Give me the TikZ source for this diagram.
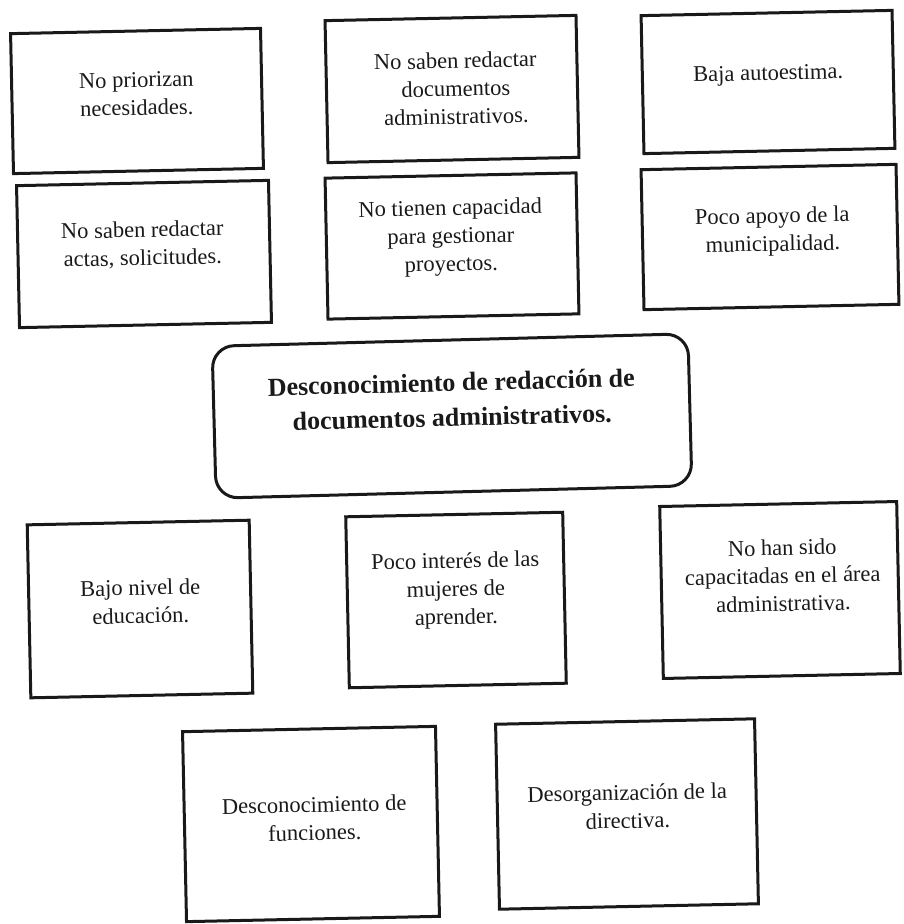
\documentclass[tikz,border=0pt]{standalone}
\usepackage{fontspec}
\setmainfont{Liberation Serif}
\begin{document}
\begin{tikzpicture}[x=1pt,y=-1pt,
  cbox/.style={draw=black!90,line width=3pt,rectangle,inner sep=0pt,rotate=1.2},
  ctext/.style={anchor=north,align=center,inner sep=0pt,rotate=1.2,text=black!90,
    font=\fontsize{22.5pt}{28pt}\selectfont},
  mainbox/.style={draw=black!90,line width=3pt,rectangle,rounded corners=22pt,inner sep=0pt,rotate=1.5},
  maintext/.style={anchor=north,align=center,inner sep=0pt,rotate=1.5,text=black!90,
    font=\fontsize{26pt}{35pt}\selectfont\bfseries}]
\useasboundingbox (0,0) rectangle (904,924);
\def\st{\rule{0pt}{17pt}}
% top rows
\node[cbox,minimum width=250pt,minimum height=140pt] (b1) at (137,101) {};
\node[ctext] (t1) at (136,70) {\st No priorizan\\necesidades.};
\node[cbox,minimum width=251pt,minimum height=142pt] (b2) at (452,89) {};
\node[ctext] (t2) at (455,51) {\st No saben redactar\\documentos\\administrativos.};
\node[cbox,minimum width=251pt,minimum height=138pt] (b3) at (768,82) {};
\node[ctext] (t3) at (768,63) {\st Baja autoestima.};
\node[cbox,minimum width=252pt,minimum height=142pt] (b4) at (144,254) {};
\node[ctext] (t4) at (142,220) {\st No saben redactar\\actas, solicitudes.};
\node[cbox,minimum width=251pt,minimum height=141pt] (b5) at (452,246) {};
\node[ctext] (t5) at (450,198) {\st No tienen capacidad\\para gestionar\\proyectos.};
\node[cbox,minimum width=255pt,minimum height=140pt] (b6) at (770,237) {};
\node[ctext] (t6) at (772,206) {\st Poco apoyo de la\\municipalidad.};
% centre
\node[mainbox,minimum width=476pt,minimum height=152pt] (c) at (452,416) {};
\node[maintext] (tc) at (451,372) {\rule{0pt}{19pt}Desconocimiento de redacción de\\documentos administrativos.};
% lower rows
\node[cbox,minimum width=222pt,minimum height=173pt] (b8) at (140,609) {};
\node[ctext] (t8) at (140,578) {\st Bajo nivel de\\educación.};
\node[cbox,minimum width=217pt,minimum height=171pt] (b9) at (456,600) {};
\node[ctext] (t9) at (455,551) {\st Poco interés de las\\mujeres de\\aprender.};
\node[cbox,minimum width=237pt,minimum height=172pt] (b10) at (780,590) {};
\node[ctext] (t10) at (782,538) {\st No han sido\\capacitadas en el área\\administrativa.};
\node[cbox,minimum width=253pt,minimum height=190pt] (b11) at (311,824) {};
\node[ctext] (t11) at (314,795) {\st Desconocimiento de\\funciones.};
\node[cbox,minimum width=259pt,minimum height=185pt] (b12) at (627,814) {};
\node[ctext] (t12) at (627,783) {\st Desorganización de la\\directiva.};
\end{tikzpicture}
\end{document}
